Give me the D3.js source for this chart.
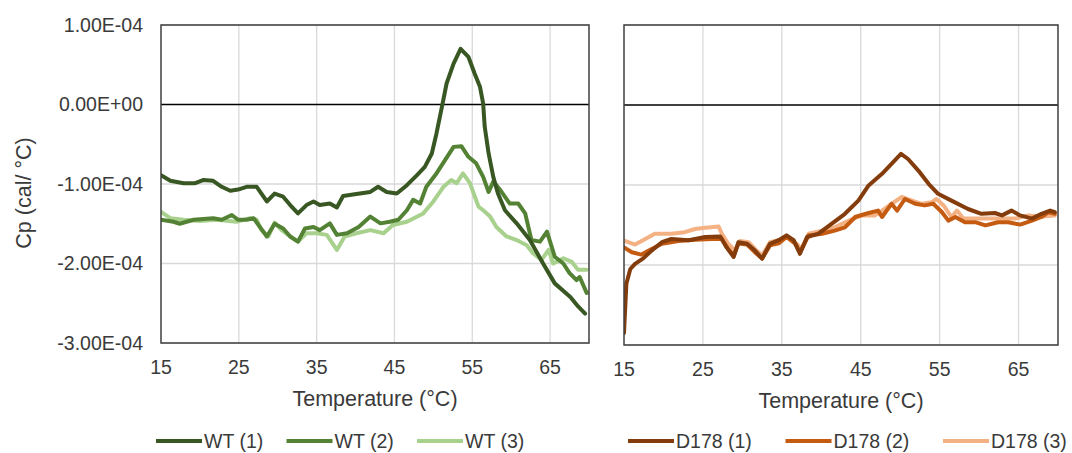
<!DOCTYPE html>
<html>
<head>
<meta charset="utf-8">
<script src="https://cdn.jsdelivr.net/npm/d3@7"></script>
<style>
  html, body { margin: 0; padding: 0; background: #ffffff; }
  svg { display: block; font-family: "Liberation Sans", Arial, sans-serif; }
</style>
</head>
<body>
<svg id="chart" width="1072" height="453"></svg>
<script>
// Temperature ticks (°C) and Cp ticks (in units of 1e-4 cal/°C)
const xTicks = [15, 25, 35, 45, 55, 65];
const yTicks = [-3, -2, -1, 0, 1];
const yTickLabels = ["-3.00E-04", "-2.00E-04", "-1.00E-04", "0.00E+00", "1.00E-04"];

// WT replicates: [temperature, Cp ×1e-4]
const wt1 = [[15,-0.89],[16.2,-0.96],[17.9,-0.99],[19.4,-0.99],[20.4,-0.95],[21.7,-0.96],[22.8,-1.035],[23.9,-1.085],[24.9,-1.07],[26.0,-1.035],[27.3,-1.035],[28.6,-1.22],[29.6,-1.12],[30.7,-1.16],[31.6,-1.265],[32.6,-1.37],[33.7,-1.265],[34.6,-1.22],[35.4,-1.265],[36.7,-1.245],[37.6,-1.295],[38.4,-1.15],[40.1,-1.127],[41.9,-1.10],[42.9,-1.035],[44.0,-1.10],[45.3,-1.12],[46.6,-1.015],[47.9,-0.888],[48.9,-0.784],[49.8,-0.616],[50.4,-0.364],[51.1,-0.03],[51.7,0.264],[52.6,0.515],[53.5,0.70],[54.5,0.60],[55.3,0.39],[56.0,0.22],[56.4,0.01],[56.6,-0.28],[57.1,-0.616],[57.7,-0.91],[58.3,-1.12],[59.2,-1.33],[60.7,-1.495],[62.4,-1.705],[64.1,-2.0],[65.6,-2.25],[67.6,-2.42],[68.6,-2.54],[69.5,-2.63]];
const wt2 = [[15,-1.45],[16.6,-1.475],[17.4,-1.50],[19.2,-1.45],[21.7,-1.43],[22.8,-1.45],[24.1,-1.39],[24.9,-1.45],[26.0,-1.45],[26.9,-1.43],[27.7,-1.54],[28.6,-1.66],[29.6,-1.50],[30.7,-1.56],[31.6,-1.66],[32.6,-1.725],[33.5,-1.56],[34.6,-1.54],[35.4,-1.58],[36.7,-1.495],[37.6,-1.64],[38.9,-1.62],[40.4,-1.54],[41.9,-1.41],[43.2,-1.495],[44.4,-1.475],[45.5,-1.45],[46.6,-1.33],[47.4,-1.20],[48.3,-1.245],[49.1,-1.035],[50.4,-0.867],[51.5,-0.70],[52.6,-0.533],[53.6,-0.524],[54.5,-0.658],[55.5,-0.74],[56.4,-0.91],[57.1,-1.10],[57.7,-0.97],[58.6,-1.077],[59.8,-1.245],[60.9,-1.245],[61.8,-1.37],[62.6,-1.705],[63.7,-1.725],[64.6,-1.60],[65.6,-1.915],[66.7,-2.0],[67.5,-2.12],[68.4,-2.21],[68.8,-2.17],[69.7,-2.37]];
const wt3 = [[15,-1.35],[16.2,-1.43],[17.9,-1.45],[20.0,-1.465],[22.1,-1.45],[24.7,-1.475],[26.4,-1.43],[27.3,-1.45],[27.9,-1.58],[28.8,-1.66],[29.6,-1.485],[30.5,-1.58],[31.6,-1.66],[32.6,-1.725],[33.7,-1.62],[35.0,-1.62],[36.3,-1.64],[37.6,-1.83],[38.6,-1.66],[40.1,-1.62],[41.9,-1.58],[43.6,-1.62],[44.8,-1.515],[46.6,-1.475],[48.7,-1.37],[50.0,-1.22],[51.3,-1.035],[52.3,-0.95],[53.0,-0.99],[53.8,-0.867],[54.7,-0.99],[55.8,-1.285],[56.4,-1.33],[57.3,-1.41],[58.1,-1.54],[59.4,-1.66],[60.7,-1.705],[62.0,-1.77],[62.8,-1.87],[63.9,-1.955],[64.8,-1.83],[65.4,-2.0],[66.7,-1.935],[67.8,-1.98],[68.6,-2.08],[69.7,-2.08]];

// D178 replicates: [temperature, Cp ×1e-4]
const d1 = [[15,-2.85],[15.3,-2.235],[15.8,-2.05],[16.4,-1.985],[17.4,-1.92],[18.5,-1.82],[19.8,-1.715],[21.0,-1.675],[23.2,-1.69],[25.3,-1.65],[27.2,-1.645],[28.0,-1.78],[28.9,-1.90],[29.5,-1.715],[30.6,-1.735],[31.6,-1.82],[32.5,-1.92],[33.5,-1.735],[34.6,-1.69],[35.6,-1.63],[36.5,-1.69],[37.3,-1.86],[38.2,-1.65],[39.6,-1.61],[41.3,-1.485],[43.0,-1.36],[44.7,-1.195],[46.0,-1.005],[47.7,-0.86],[48.9,-0.735],[50.1,-0.61],[51.0,-0.675],[52.3,-0.82],[53.6,-0.985],[54.8,-1.11],[56.5,-1.195],[58.6,-1.30],[60.3,-1.36],[62.0,-1.35],[62.9,-1.38],[64.1,-1.32],[65.2,-1.38],[66.7,-1.42],[67.9,-1.36],[69.0,-1.32],[69.6,-1.34]];
const d2 = [[15,-1.78],[16.0,-1.84],[17.2,-1.87],[18.5,-1.80],[19.8,-1.735],[21.9,-1.70],[24.0,-1.685],[26.1,-1.675],[27.4,-1.675],[28.2,-1.80],[28.9,-1.88],[29.5,-1.73],[30.6,-1.745],[31.8,-1.86],[32.5,-1.92],[33.5,-1.755],[34.6,-1.73],[35.6,-1.65],[36.7,-1.735],[37.3,-1.84],[38.4,-1.63],[40.1,-1.61],[41.7,-1.57],[43.0,-1.53],[44.3,-1.40],[46.0,-1.35],[47.2,-1.32],[47.7,-1.40],[48.9,-1.235],[49.6,-1.32],[50.6,-1.175],[51.9,-1.235],[53.1,-1.255],[54.2,-1.235],[55.3,-1.34],[56.1,-1.445],[57.0,-1.40],[58.2,-1.465],[59.5,-1.465],[60.8,-1.505],[62.4,-1.465],[63.7,-1.465],[65.2,-1.495],[66.7,-1.445],[67.9,-1.40],[68.8,-1.34],[69.6,-1.36]];
const d3s = [[15,-1.695],[16.4,-1.745],[17.7,-1.675],[18.9,-1.61],[21.0,-1.61],[22.7,-1.59],[24.0,-1.55],[25.3,-1.535],[27.0,-1.52],[27.4,-1.61],[28.2,-1.735],[29.1,-1.82],[29.7,-1.70],[30.8,-1.715],[31.8,-1.82],[32.5,-1.88],[33.5,-1.715],[34.6,-1.69],[35.6,-1.645],[36.9,-1.735],[37.5,-1.80],[38.4,-1.61],[40.1,-1.57],[41.7,-1.53],[43.5,-1.445],[45.1,-1.38],[46.8,-1.38],[47.7,-1.32],[48.9,-1.235],[50.2,-1.15],[51.5,-1.195],[52.7,-1.235],[54.0,-1.215],[54.6,-1.175],[55.5,-1.255],[56.5,-1.40],[57.2,-1.32],[58.0,-1.42],[59.5,-1.42],[61.2,-1.42],[62.9,-1.42],[64.6,-1.42],[66.2,-1.38],[67.9,-1.395],[69.6,-1.38]];

const wtNames = ["WT (1)", "WT (2)", "WT (3)"];
const d178Names = ["D178 (1)", "D178 (2)", "D178 (3)"];
const wtColors = ["#385723", "#548235", "#a9d18e"];
const d178Colors = ["#843c0c", "#c55a11", "#f4b183"];

const svg = d3.select("#chart");
const textColor = "#3a3a3a";

function drawPanel(cfg) {
  const x = d3.scaleLinear().domain([15, 70]).range([cfg.x0, cfg.x1]);
  const y = d3.scaleLinear().domain([-3, 1]).range([cfg.y1, cfg.y0]);
  const g = svg.append("g");

  // gridlines
  g.append("g").selectAll("line.vg").data(xTicks.slice(1)).join("line")
    .attr("x1", d => x(d)).attr("x2", d => x(d))
    .attr("y1", cfg.y0).attr("y2", cfg.y1)
    .attr("stroke", "#d9d9d9").attr("stroke-width", 1.3);
  g.append("g").selectAll("line.hg").data(yTicks.filter(d => d !== 0)).join("line")
    .attr("x1", cfg.x0).attr("x2", cfg.x1)
    .attr("y1", d => y(d)).attr("y2", d => y(d))
    .attr("stroke", "#d9d9d9").attr("stroke-width", 1.3);

  // zero axis line
  g.append("line")
    .attr("x1", cfg.x0).attr("x2", cfg.x1)
    .attr("y1", y(0)).attr("y2", y(0))
    .attr("stroke", "#000000").attr("stroke-width", 1.4);

  // data lines
  const line = d3.line().x(d => x(d[0])).y(d => y(d[1]));
  const clipId = "clip" + cfg.id;
  g.append("clipPath").attr("id", clipId).append("rect")
    .attr("x", cfg.x0).attr("y", cfg.y0)
    .attr("width", cfg.x1 - cfg.x0).attr("height", cfg.y1 - cfg.y0);
  const lines = g.append("g").attr("clip-path", `url(#${clipId})`);
  cfg.series.slice().reverse().forEach((s, i) => {
    const k = cfg.series.length - 1 - i;
    lines.append("path").datum(s)
      .attr("d", line)
      .attr("fill", "none")
      .attr("stroke", cfg.colors[k])
      .attr("stroke-width", 4)
      .attr("stroke-linejoin", "round")
      .attr("stroke-linecap", "round");
  });

  // plot frame
  g.append("rect")
    .attr("x", cfg.x0).attr("y", cfg.y0)
    .attr("width", cfg.x1 - cfg.x0).attr("height", cfg.y1 - cfg.y0)
    .attr("fill", "none").attr("stroke", "#3f3f3f").attr("stroke-width", 1.5);

  // x tick labels
  g.append("g").selectAll("text").data(xTicks).join("text")
    .attr("x", d => x(d)).attr("y", cfg.y1 + 24)
    .attr("dy", "0.35em")
    .attr("text-anchor", "middle")
    .attr("font-size", 19.5).attr("fill", textColor)
    .text(d => d);

  // x title
  g.append("text")
    .attr("x", (cfg.x0 + cfg.x1) / 2).attr("y", cfg.y1 + 55)
    .attr("dy", "0.35em").attr("text-anchor", "middle")
    .attr("font-size", 21.5).attr("fill", textColor)
    .text("Temperature (°C)");

  if (cfg.yLabels) {
    g.append("g").selectAll("text").data(yTicks).join("text")
      .attr("x", cfg.x0 - 18).attr("y", d => y(d))
      .attr("dy", "0.35em").attr("text-anchor", "end")
      .attr("font-size", 19.5).attr("fill", textColor)
      .text((d, i) => yTickLabels[i]);
    g.append("text")
      .attr("transform", `translate(23,193) rotate(-90)`)
      .attr("dy", "0.35em").attr("text-anchor", "middle")
      .attr("font-size", 21.5).attr("fill", textColor)
      .text("Cp (cal/ °C)");
  }

  // legend
  const lg = svg.append("g");
  cfg.names.forEach((name, i) => {
    const lx = cfg.legendX + i * cfg.legendStep;
    lg.append("line")
      .attr("x1", lx).attr("x2", lx + 46)
      .attr("y1", 441).attr("y2", 441)
      .attr("stroke", cfg.colors[i]).attr("stroke-width", 4);
    lg.append("text")
      .attr("x", lx + 48).attr("y", 441)
      .attr("dy", "0.35em")
      .attr("font-size", 19.5).attr("fill", textColor)
      .text(name);
  });
}

drawPanel({ id: "wt", x0: 161, x1: 589, y0: 25, y1: 343, series: [wt1, wt2, wt3],
  colors: wtColors, names: wtNames, yLabels: true, legendX: 156, legendStep: 130.5 });
drawPanel({ id: "d178", x0: 624, x1: 1058, y0: 25, y1: 345, series: [d1, d2, d3s],
  colors: d178Colors, names: d178Names, yLabels: false, legendX: 628, legendStep: 157.5 });
</script>
</body>
</html>
